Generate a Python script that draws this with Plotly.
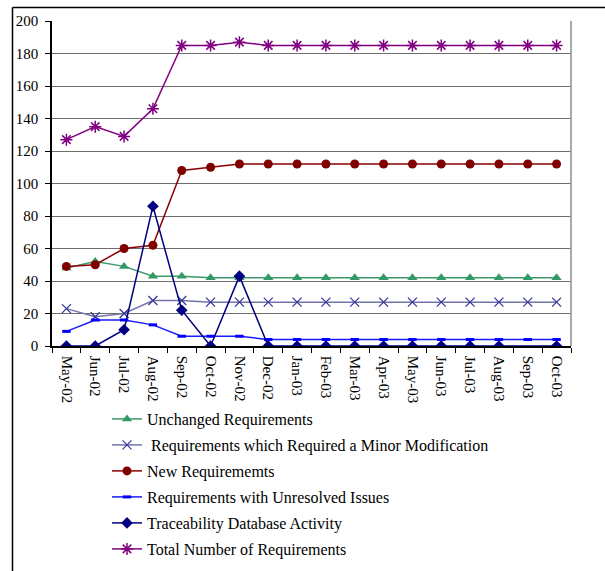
import plotly.graph_objects as go

months = ["May-02", "Jun-02", "Jul-02", "Aug-02", "Sep-02", "Oct-02", "Nov-02",
          "Dec-02", "Jan-03", "Feb-03", "Mar-03", "Apr-03", "May-03", "Jun-03",
          "Jul-03", "Aug-03", "Sep-03", "Oct-03"]

unchanged = [48, 52, 49, 43, 43, 42, 42, 42, 42, 42, 42, 42, 42, 42, 42, 42, 42, 42]
minor_mod = [23, 18, 20, 28, 28, 27, 27, 27, 27, 27, 27, 27, 27, 27, 27, 27, 27, 27]
new_reqs = [49, 50, 60, 62, 108, 110, 112, 112, 112, 112, 112, 112, 112, 112, 112, 112, 112, 112]
unresolved = [9, 16, 16, 13, 6, 6, 6, 4, 4, 4, 4, 4, 4, 4, 4, 4, 4, 4]
trace_db = [0, 0, 10, 86, 22, 0, 43, 0, 0, 0, 0, 0, 0, 0, 0, 0, None, 0]
total = [127, 135, 129, 146, 185, 185, 187, 185, 185, 185, 185, 185, 185, 185, 185, 185, 185, 185]

y_ticks = list(range(0, 201, 20))

FONT = "Liberation Serif"

series = [
    ("Unchanged Requirements", unchanged, "#3a9a6a", dict(symbol="triangle-up", size=9, color="#339966")),
    (" Requirements which Required a Minor Modification", minor_mod, "#7474ac",
     dict(symbol="x-thin-open", size=9, color="#333399", line=dict(width=1.2, color="#333399"))),
    ("New Requirememts", new_reqs, "#8b0000", dict(symbol="circle", size=9, color="#800000")),
    ("Requirements with Unresolved Issues", unresolved, "#1a1aff",
     dict(symbol="line-ew-open", size=6, color="#0000ff", line=dict(width=3, color="#0000ff"))),
    ("Traceability Database Activity", trace_db, "#000080", dict(symbol="diamond", size=9, color="#000080")),
    ("Total Number of Requirements", total, "#800080",
     dict(symbol="asterisk-open", size=10, color="#800080", line=dict(width=1.5, color="#800080"))),
]

fig = go.Figure()
for i, (name, vals, lc, mk) in enumerate(series):
    fig.add_trace(go.Scatter(
        x=months, y=vals, name=name, mode="lines+markers",
        line=dict(color=lc, width=1.5), marker=mk, connectgaps=True,
        legendgroup=str(i),
    ))

# plot area geometry in pixels
L, R, T, B = 52, 34, 21, 225
W, H = 605 - L - R, 571 - T - B

def px_x(p):
    return (p - L) / W

def px_y(p):
    return (571 - B - p) / H

shapes = [
    # outer frame (top and left edges)
    dict(type="line", xref="paper", yref="paper", x0=px_x(12.5), x1=px_x(606),
         y0=px_y(7.5), y1=px_y(7.5), line=dict(color="black", width=1.5)),
    dict(type="line", xref="paper", yref="paper", x0=px_x(12.5), x1=px_x(12.5),
         y0=px_y(7.5), y1=px_y(572), line=dict(color="black", width=1.5)),
    # right border of plot area
    dict(type="line", xref="paper", yref="paper", x0=1, x1=1, y0=0, y1=1,
         line=dict(color="#8c8c8c", width=1.5)),
]

fig.update_layout(
    width=605, height=571,
    margin=dict(l=L, r=R, t=T, b=B, autoexpand=False),
    paper_bgcolor="white", plot_bgcolor="white",
    font=dict(family=FONT, color="black", size=15),
    shapes=shapes,
    showlegend=True,
    legend=dict(
        x=px_x(107), y=px_y(402), xanchor="left", yanchor="top",
        font=dict(family=FONT, size=16, color="black"),
        bgcolor="rgba(0,0,0,0)", traceorder="grouped", tracegroupgap=2.2,
        itemwidth=30,
    ),
    xaxis=dict(
        type="category", range=[-0.5, 17.5], tickangle=90,
        ticks="outside", tickson="boundaries", ticklen=5, tickcolor="black",
        ticklabelstandoff=5,
        showline=True, linecolor="black", linewidth=1.5,
        showgrid=False, zeroline=False,
        tickfont=dict(family=FONT, size=15),
    ),
    yaxis=dict(
        range=[0, 200], tickvals=y_ticks, ticks="outside", ticklen=5, tickcolor="black",
        ticklabelstandoff=4,
        showline=True, linecolor="black", linewidth=1.5,
        showgrid=True, gridcolor="#6e6e6e", gridwidth=1.2, zeroline=False,
        tickfont=dict(family=FONT, size=15),
    ),
)

fig.write_html("out.html")
